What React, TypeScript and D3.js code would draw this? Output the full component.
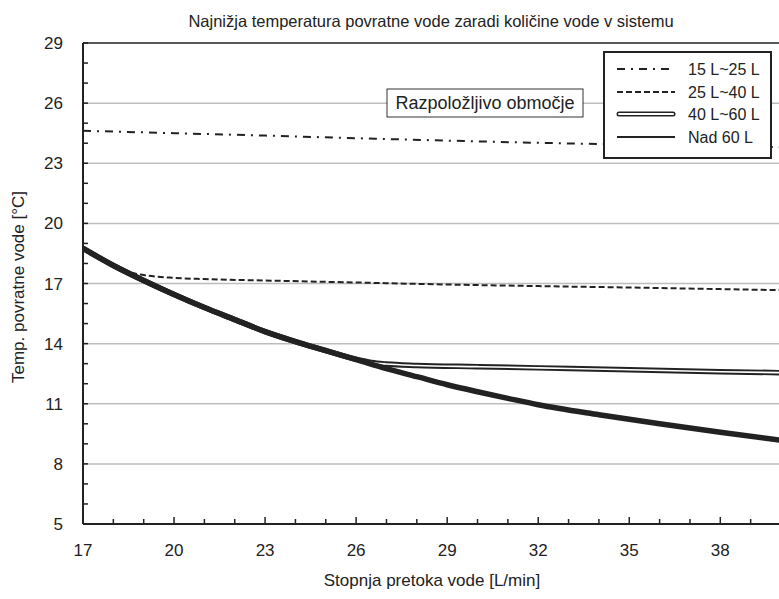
import React from "react";
import * as d3 from "d3";

const xTickLabels = [17, 20, 23, 26, 29, 32, 35, 38];
const yTickLabels = [5, 8, 11, 14, 17, 20, 23, 26, 29];

const series15to25X = [17, 20, 23, 26, 29, 32, 35, 38, 40];
const series15to25Y = [24.62, 24.5, 24.38, 24.25, 24.13, 24.02, 23.93, 23.85, 23.8];

const series25to40X = [17, 17.5, 18, 18.4, 19, 20, 21, 23, 26, 29, 32, 35, 38, 40];
const series25to40Y = [18.75, 18.33, 17.9, 17.62, 17.42, 17.28, 17.22, 17.15, 17.05, 16.95, 16.87, 16.8, 16.72, 16.67];

const series40to60X = [17, 18, 19, 20, 21, 22, 23, 24, 25, 26, 26.5, 27, 28, 30, 32, 35, 38, 40];
const series40to60Y = [18.75, 17.9, 17.15, 16.45, 15.8, 15.2, 14.6, 14.1, 13.65, 13.22, 13.06, 12.98, 12.91, 12.85, 12.79, 12.7, 12.6, 12.55];

const seriesOver60X = [17, 18, 19, 20, 21, 22, 23, 24, 25, 26, 27, 28, 29, 30, 31, 32, 34, 36, 38, 40];
const seriesOver60Y = [18.75, 17.9, 17.15, 16.45, 15.8, 15.2, 14.6, 14.1, 13.65, 13.2, 12.75, 12.35, 11.95, 11.6, 11.27, 10.95, 10.45, 10.0, 9.58, 9.18];

const legendLabels = ["15 L~25 L", "25 L~40 L", "40 L~60 L", "Nad 60 L"];

const W = 779;
const H = 599;
const FONT = "'Liberation Sans', Arial, sans-serif";

export default function App() {
  const x = d3.scaleLinear().domain([17, 40]).range([83, 781]);
  const y = d3.scaleLinear().domain([5, 29]).range([524, 43]);

  const line = d3
    .line<[number, number]>()
    .x((d) => x(d[0]))
    .y((d) => y(d[1]))
    .curve(d3.curveMonotoneX);

  const zip = (xs: number[], ys: number[]) => xs.map((v, i) => [v, ys[i]] as [number, number]);

  const xMinor = d3.range(17, 40, 1);
  const yMinor = d3.range(5, 30, 1);

  const plotL = 83;
  const plotR = W;
  const plotT = 43;
  const plotB = 524;

  const legendX = 604;
  const legendY = 52;
  const legendW = 167;
  const legendH = 106;
  const rowYs = [69, 92, 114, 137];

  return (
    <svg width={W} height={H} style={{ position: "absolute", left: 0, top: 0, background: "#fff" }} fontFamily={FONT}>
      <defs>
        <clipPath id="plotClip">
          <rect x={plotL} y={plotT} width={plotR - plotL} height={plotB - plotT} />
        </clipPath>
      </defs>
      <rect x={0} y={0} width={W} height={H} fill="#fff" />
      {/* title */}
      <text x={431} y={27} textAnchor="middle" fontSize={16.5} fill="#222">
        Najnižja temperatura povratne vode zaradi količine vode v sistemu
      </text>

      {/* gridlines */}
      {yTickLabels
        .filter((v) => v > 5 && v < 29)
        .map((v) => (
          <line key={"g" + v} x1={plotL} x2={plotR} y1={y(v)} y2={y(v)} stroke="#bdbdbd" strokeWidth={1.5} />
        ))}

      {/* series */}
      <g clipPath="url(#plotClip)" fill="none">
        <path
          d={line(zip(series15to25X, series15to25Y)) || ""}
          stroke="#222"
          strokeWidth={2}
          strokeDasharray="8 6 2 6"
        />
        <path d={line(zip(series25to40X, series25to40Y)) || ""} stroke="#222" strokeWidth={2} strokeDasharray="6 3" />
        <path d={line(zip(series40to60X, series40to60Y)) || ""} stroke="#222" strokeWidth={5.5} />
        <path d={line(zip(series40to60X, series40to60Y)) || ""} stroke="#fff" strokeWidth={1.6} />
        <path d={line(zip(seriesOver60X, seriesOver60Y)) || ""} stroke="#222" strokeWidth={5.5} />
      </g>

      {/* axes */}
      <line x1={plotL} x2={plotR} y1={plotT} y2={plotT} stroke="#222" strokeWidth={1.5} />
      <line x1={plotL} x2={plotR} y1={plotB} y2={plotB} stroke="#222" strokeWidth={2} />
      <line x1={plotL} x2={plotL} y1={plotT} y2={plotB} stroke="#222" strokeWidth={2} />
      {xMinor.map((v) => {
        const major = (v - 17) % 3 === 0;
        return (
          <line
            key={"xt" + v}
            x1={x(v)}
            x2={x(v)}
            y1={plotB}
            y2={plotB - (major ? 7 : 5)}
            stroke="#222"
            strokeWidth={1.5}
          />
        );
      })}
      {yMinor.map((v) => (
        <line key={"yt" + v} x1={plotL} x2={plotL + 5} y1={y(v)} y2={y(v)} stroke="#222" strokeWidth={1.5} />
      ))}
      {xTickLabels.map((v) => (
        <text key={"xl" + v} x={x(v)} y={556} textAnchor="middle" fontSize={17} fill="#222">
          {v}
        </text>
      ))}
      {yTickLabels.map((v) => (
        <text key={"yl" + v} x={63} y={y(v) + 6} textAnchor="end" fontSize={17} fill="#222">
          {v}
        </text>
      ))}
      <text x={432} y={586} textAnchor="middle" fontSize={17} fill="#222">
        Stopnja pretoka vode [L/min]
      </text>
      <text transform={`translate(24, 287) rotate(-90)`} textAnchor="middle" fontSize={17} fill="#222">
        Temp. povratne vode [°C]
      </text>

      {/* annotation */}
      <rect x={387} y={89} width={196} height={28} fill="#fff" stroke="#333" strokeWidth={1} />
      <text x={485} y={109} textAnchor="middle" fontSize={18} fill="#222">
        Razpoložljivo območje
      </text>

      {/* legend */}
      <rect x={legendX} y={legendY} width={legendW} height={legendH} fill="#fff" stroke="#222" strokeWidth={2} />
      <line x1={617} x2={675} y1={rowYs[0]} y2={rowYs[0]} stroke="#222" strokeWidth={2} strokeDasharray="8 6 2 6" />
      <line x1={617} x2={675} y1={rowYs[1]} y2={rowYs[1]} stroke="#222" strokeWidth={2} strokeDasharray="6 3" />
      <line x1={619} x2={673} y1={rowYs[2]} y2={rowYs[2]} stroke="#222" strokeWidth={5} strokeLinecap="round" />
      <line x1={619} x2={673} y1={rowYs[2]} y2={rowYs[2]} stroke="#fff" strokeWidth={2} strokeLinecap="round" />
      <line x1={617} x2={675} y1={rowYs[3]} y2={rowYs[3]} stroke="#222" strokeWidth={2} />
      {legendLabels.map((l, i) => (
        <text key={l} x={688} y={rowYs[i] + 5.5} fontSize={16} fill="#222">
          {l}
        </text>
      ))}
    </svg>
  );
}
